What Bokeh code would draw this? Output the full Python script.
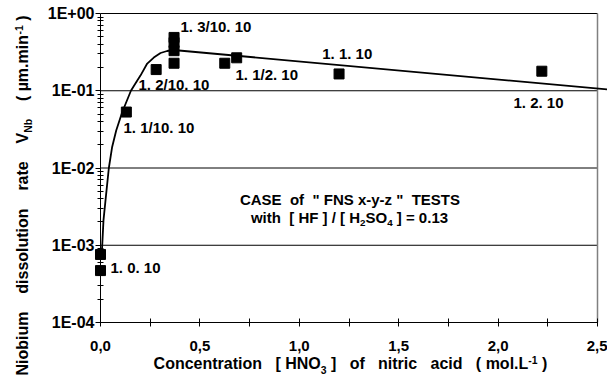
import math
from bokeh.plotting import figure
from bokeh.models import Label, FixedTicker, CustomJSTickFormatter, Range1d
from bokeh.embed import file_html
from bokeh.resources import INLINE

# ---------------- data ----------------
point_x = [0.0, 0.0, 0.13, 0.28, 0.37, 0.37, 0.37, 0.37, 0.625, 0.685, 1.20, 2.22]
point_y = [7.6e-4, 4.7e-4, 0.053, 0.188, 0.49, 0.42, 0.33, 0.227, 0.227, 0.267, 0.165, 0.179]

curve_x = [0.004, 0.0086, 0.015, 0.028, 0.042, 0.058, 0.079, 0.109, 0.131, 0.153, 0.185,
           0.201, 0.235, 0.268, 0.302, 0.335, 0.367, 2.60]
curve_y = [6.5e-4, 9.9e-4, 2.1e-3, 4.5e-3, 0.010, 0.0184, 0.0306, 0.0527, 0.0726, 0.100, 0.136,
           0.157, 0.225, 0.269, 0.308, 0.327, 0.337, 0.101]

x_ticks = [0.0, 0.5, 1.0, 1.5, 2.0, 2.5]
x_minor = [0.25, 0.75, 1.25, 1.75, 2.25]
y_ticks = [1e-4, 1e-3, 1e-2, 1e-1, 1e0]
y_minor = [k * 10.0 ** e for e in range(-4, 0) for k in range(2, 10)]

test_labels = ["1. 3/10. 10", "1. 2/10. 10", "1. 1/10. 10", "1. 1/2. 10",
               "1. 1. 10", "1. 2. 10", "1. 0. 10"]

FONT = "Liberation Sans"

# ---------------- page-pixel helpers ----------------
FIG_W, FIG_H = 607, 380
PX_PER_X = 497 / 2.5
PX_PER_DEC = 309 / 4.0


def dx(X):
    return (X - 100) / PX_PER_X


def dy(Y):
    return 10 ** (-(Y - 13) / PX_PER_DEC)


W = {" ": 278, "\u00a0": 278, "!": 333, '"': 474, "(": 333, ")": 333, "+": 584, ",": 278,
     "-": 333, ".": 278, "/": 278, "=": 584, "[": 333, "]": 333, "µ": 611,
     "A": 722, "B": 722, "C": 722, "D": 722, "E": 667, "F": 611, "G": 778, "H": 722,
     "I": 278, "J": 556, "K": 722, "L": 611, "M": 833, "N": 722, "O": 778, "P": 667,
     "Q": 778, "R": 722, "S": 667, "T": 611, "U": 722, "V": 667, "W": 944, "X": 667,
     "Y": 667, "Z": 611,
     "a": 556, "b": 611, "c": 556, "d": 611, "e": 556, "f": 333, "g": 611, "h": 611,
     "i": 278, "j": 278, "k": 556, "l": 278, "m": 889, "n": 611, "o": 611, "p": 611,
     "q": 611, "r": 389, "s": 556, "t": 333, "u": 611, "v": 556, "w": 778, "x": 556,
     "y": 556, "z": 500}


def tw(s, fs):
    return sum(W.get(c, 556) for c in s) / 1000.0 * fs


def rich(p, parts, X, Y, fs, center=True, vertical=False):
    """parts: list of (text, kind), kind in '', 'sub', 'sup'. X, Y: page px of baseline."""
    parts = [(t.replace(" ", "\u00a0"), k) for t, k in parts]
    sizes = [fs * (0.65 if k else 1.0) for _, k in parts]
    total = sum(tw(t, s) for (t, _), s in zip(parts, sizes))
    pos = -total / 2 if center else 0.0
    for (t, k), s in zip(parts, sizes):
        off = -0.4 * s  # bring the drawn baseline onto the wanted one
        if k == "sub":
            off += 0.25 * fs
        elif k == "sup":
            off -= 0.38 * fs
        if vertical:
            PX, PY, ang = X + off, Y - pos, math.pi / 2
        else:
            PX, PY, ang = X + pos, Y + off, 0.0
        p.add_layout(Label(x=dx(PX), y=dy(PY), text=t, angle=ang,
                           text_font=FONT, text_font_style="bold",
                           text_font_size=f"{s:.1f}px", text_color="black",
                           text_baseline="alphabetic", text_align="left"))
        pos += tw(t, s)


# ---------------- figure: the frame covers the whole canvas ----------------
p = figure(width=FIG_W, height=FIG_H, y_axis_type="log",
           x_range=Range1d(dx(0), dx(FIG_W)), y_range=Range1d(dy(FIG_H), dy(0)),
           output_backend="svg", toolbar_location=None,
           min_border_left=0, min_border_right=0, min_border_top=0, min_border_bottom=0)
p.outline_line_color = None
p.background_fill_color = "white"
p.border_fill_color = "white"
p.xgrid.visible = False
p.ygrid.visible = False

# decade grid lines and grey right border of the plot area
p.multi_line(xs=[[x_ticks[0], x_ticks[-1]] for _ in y_ticks], ys=[[t, t] for t in y_ticks],
             line_color="black", line_width=1)
p.line([x_ticks[-1], x_ticks[-1]], [y_ticks[0], y_ticks[-1]], line_color="#808080", line_width=1.5)

# curve and points
p.line(curve_x, curve_y, line_color="black", line_width=1.8)
p.scatter(point_x, point_y, marker="square", size=10, fill_color="black", line_color="black")

# axes placed at x = 0 and y = 1E-04
ax = p.xaxis[0]
ax.fixed_location = y_ticks[0]
ax.bounds = (x_ticks[0], x_ticks[-1])
ax.ticker = FixedTicker(ticks=x_ticks, minor_ticks=x_minor)
ax.formatter = CustomJSTickFormatter(code='return tick.toFixed(1).replace(".", ",");')
ax.major_tick_in = 4
ax.major_tick_out = 4
ax.minor_tick_in = 4
ax.minor_tick_out = 4
ax.major_label_standoff = 14
ax.major_label_text_font_size = "15px"

ay = p.yaxis[0]
ay.fixed_location = x_ticks[0]
ay.bounds = (y_ticks[0], y_ticks[-1])
ay.ticker = FixedTicker(ticks=y_ticks, minor_ticks=y_minor)
ay.formatter = CustomJSTickFormatter(code='''
const e = Math.round(Math.log10(tick));
const a = Math.abs(e);
return "1E" + (e < 0 ? "-" : "+") + (a < 10 ? "0" : "") + a;
''')
ay.major_tick_in = 0
ay.major_tick_out = 5
ay.minor_tick_in = 3
ay.minor_tick_out = 3
ay.major_label_standoff = 1
ay.major_label_text_font_size = "16px"

for a in (ax, ay):
    a.axis_line_color = "black"
    a.axis_line_width = 1
    a.major_tick_line_color = "black"
    a.minor_tick_line_color = "black"
    a.major_label_text_font = FONT
    a.major_label_text_font_style = "bold"
    a.major_label_text_color = "black"

# test labels (page px: left edge, baseline)
label_pos = [(180, 31.7), (138, 90), (123, 133), (235, 80), (321.7, 59), (513, 108), (110, 273)]
for t, (X, Y) in zip(test_labels, label_pos):
    rich(p, [(t, "")], X, Y, 15, center=False)

# case text
rich(p, [('CASE  of  " FNS x-y-z "  TESTS', "")], 349.5, 205, 15)
rich(p, [("with  [ HF ] / [ H", ""), ("2", "sub"), ("SO", ""), ("4", "sub"), (" ] = 0.13", "")],
     349, 223, 15)

# axis titles
rich(p, [("Concentration   [ HNO", ""), ("3", "sub"), (" ]   of   nitric   acid   ( mol.L", ""),
         ("-1", "sup"), (" )", "")], 350, 369.5, 16)
rich(p, [("Niobium    dissolution    rate    V", ""), ("Nb", "sub"), ("    ( µm.min", ""),
         ("-1", "sup"), (" )", "")], 28.5, 375, 16, center=False, vertical=True)

open("out.html", "w").write(file_html(p, INLINE))
